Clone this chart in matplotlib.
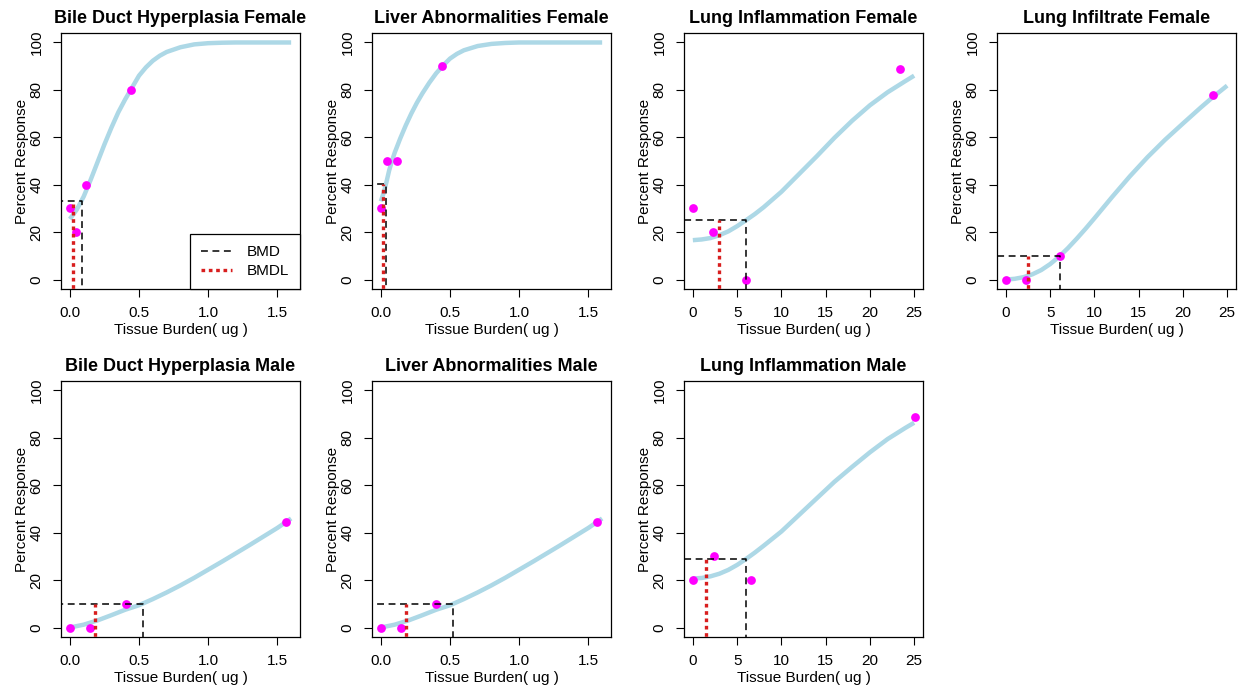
import matplotlib
matplotlib.use("Agg")
import matplotlib.pyplot as plt

plt.rcParams['font.family'] = ['Liberation Sans', 'DejaVu Sans']

titles = ["Bile Duct Hyperplasia Female", "Liver Abnormalities Female",
          "Lung Inflammation Female", "Lung Infiltrate Female",
          "Bile Duct Hyperplasia Male", "Liver Abnormalities Male",
          "Lung Inflammation Male"]
x_max = [1.6, 1.6, 25, 25, 1.6, 1.6, 25]

# observed responses
obs_dose = [[0, 0.048, 0.115, 0.445],
            [0, 0.045, 0.117, 0.44],
            [0, 2.26, 5.98, 23.4],
            [0, 2.23, 6.08, 23.4],
            [0, 0.144, 0.403, 1.56],
            [0, 0.144, 0.40, 1.56],
            [0, 2.41, 6.54, 25.08]]
obs_resp = [[30, 20, 40, 80],
            [30, 50, 50, 90],
            [30, 20, 0, 89],
            [0, 0, 10, 78],
            [0, 0, 10, 44.5],
            [0, 0, 10, 44.5],
            [20, 30, 20, 89]]

# fitted curves
fit_dose = [[0, 0.05, 0.1, 0.15, 0.2, 0.25, 0.3, 0.35, 0.4, 0.45, 0.5, 0.55, 0.6, 0.65, 0.7, 0.8, 0.9, 1.0, 1.1, 1.2, 1.6],
            [0, 0.02, 0.04, 0.06, 0.08, 0.1, 0.14, 0.18, 0.22, 0.26, 0.3, 0.35, 0.4, 0.45, 0.5, 0.55, 0.6, 0.7, 0.8, 0.9, 1.0, 1.6],
            [0, 1, 2, 3, 4, 5, 6, 7, 8, 10, 12, 14, 16, 18, 20, 22, 24, 25],
            [0, 1, 2, 3, 4, 5, 6, 7, 8, 9, 10, 12, 14, 16, 18, 20, 22, 23.4, 25],
            [0, 0.1, 0.2, 0.3, 0.4, 0.5, 0.6, 0.7, 0.8, 0.9, 1.0, 1.1, 1.2, 1.3, 1.4, 1.5, 1.6],
            [0, 0.1, 0.2, 0.3, 0.4, 0.5, 0.6, 0.7, 0.8, 0.9, 1.0, 1.1, 1.2, 1.3, 1.4, 1.5, 1.6],
            [0, 1, 2, 3, 4, 5, 6, 7, 8, 10, 12, 14, 16, 18, 20, 22, 24, 25]]
fit_resp = [[25.5, 29.5, 35, 42, 49.5, 57, 64, 70.5, 76, 81, 86, 89.5, 92.3, 94.4, 96, 98, 99.2, 99.7, 99.9, 100, 100],
            [33, 36.5, 41, 46, 50, 53.5, 59.5, 65, 70, 74.5, 78.5, 83, 87, 90.3, 93.2, 95.2, 96.7, 98.5, 99.4, 99.8, 100, 100],
            [16.6, 16.9, 17.5, 18.7, 20.3, 22.5, 25, 27.6, 30.5, 37, 44.5, 52, 59.8, 67, 73.5, 79, 83.7, 86],
            [0, 0.3, 1, 2.2, 4, 6.5, 9.6, 13.2, 17.2, 21.4, 25.8, 34.8, 43.5, 51.6, 59, 65.8, 72.5, 77, 81.8],
            [0, 1.2, 3, 5.2, 7.5, 9.4, 12, 14.8, 17.8, 21, 24.4, 27.8, 31.3, 34.8, 38.4, 42, 46],
            [0, 1.2, 3, 5.2, 7.5, 9.4, 12, 14.8, 17.8, 21, 24.4, 27.8, 31.3, 34.8, 38.4, 42, 46],
            [20.7, 20.9, 21.6, 22.7, 24.3, 26.4, 28.9, 31.6, 34.5, 40.5, 47.5, 54.5, 61.5, 67.8, 73.9, 79.5, 84.2, 86.4]]

bmd = [0.091, 0.035, 5.98, 6.15, 0.528, 0.523, 6.05]
bmdl = [0.024, 0.012, 2.93, 2.45, 0.185, 0.18, 1.43]
bmr_level = [33.2, 40.1, 24.9, 10, 10.1, 10, 28.9]

W, H = 1246, 691
fig = plt.figure(figsize=(W / 100, H / 100), dpi=100)

lefts = [61, 372, 684, 997]
tops = [33, 381]
aw, ah = 239, 256

for i, title in enumerate(titles):
    row, col = divmod(i, 4)
    ax = fig.add_axes([lefts[col] / W, 1 - (tops[row] + ah) / H, aw / W, ah / H])
    xm = x_max[i]
    ax.set_xlim(-0.04 * xm, 1.04 * xm)
    ax.set_ylim(-4, 104)

    ax.plot(fit_dose[i], fit_resp[i], color='#add8e6', lw=3.2, solid_capstyle='butt',
            solid_joinstyle='round', zorder=2)
    ax.plot(obs_dose[i], obs_resp[i], 'o', color='#ff00ff', ms=6.3, mec='none', zorder=3)

    lo = -10
    ax.plot([lo, bmd[i], bmd[i]], [bmr_level[i], bmr_level[i], lo], color='black',
            lw=1.1, linestyle=(0, (4.5, 3)), label='BMD', zorder=4)
    ax.plot([bmdl[i], bmdl[i]], [lo, bmr_level[i]], color='#d81e1e',
            lw=2.4, linestyle=(0, (1.1, 1.1)), label='BMDL', zorder=4)

    if xm < 2:
        ax.set_xticks([0, 0.5, 1.0, 1.5])
        ax.set_xticklabels(["0.0", "0.5", "1.0", "1.5"])
    else:
        ax.set_xticks([0, 5, 10, 15, 20, 25])
    ax.set_yticks([0, 20, 40, 60, 80, 100])

    ax.tick_params(direction='out', length=6, width=0.8, labelsize=11, pad=6.5, colors='black')
    ax.tick_params(axis='y', labelrotation=90)
    for lbl in ax.get_yticklabels():
        lbl.set_va('center')
    for s in ax.spines.values():
        s.set_linewidth(0.9)

    ax.set_title(title, fontsize=13, fontweight='bold', pad=7)
    ax.set_xlabel("Tissue Burden( ug )", fontsize=11, va='center')
    ax.xaxis.set_label_coords(0.5, -41 / ah)
    ax.set_ylabel("Percent Response", fontsize=11, va='center')
    ax.yaxis.set_label_coords(-39 / aw, 0.5)

    if i == 0:
        leg = ax.legend(loc='lower right', borderaxespad=0, fancybox=False, framealpha=1,
                        edgecolor='black', fontsize=11, handlelength=2.0,
                        labelspacing=0.35, borderpad=0.7, handletextpad=1.0)
        leg.get_frame().set_linewidth(0.9)

fig.savefig("out.png", dpi=100)
